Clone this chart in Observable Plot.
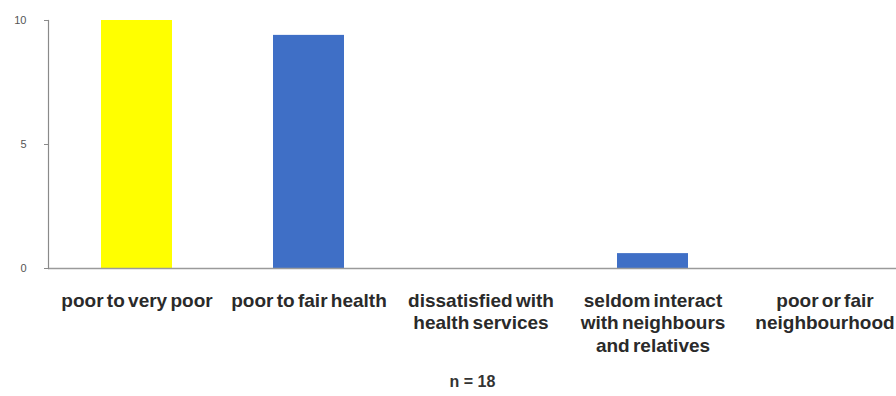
<!DOCTYPE html>
<html>
<head>
<meta charset="utf-8">
<script src="https://cdn.jsdelivr.net/npm/d3@7"></script>
<script src="https://cdn.jsdelivr.net/npm/@observablehq/plot@0.6"></script>
<style>
  html, body { margin: 0; padding: 0; background: #ffffff; }
  #chart { width: 896px; height: 396px; overflow: hidden; }
  /* tighter word gaps in the category labels */
  #chart g[aria-label="x-axis tick label"] { word-spacing: -2px; }
</style>
</head>
<body>
<div id="chart"></div>
<script>
// Categories (axis labels, with line breaks) and their values
const categories = [
  "poor to very poor",
  "poor to fair health",
  "dissatisfied with\nhealth services",
  "seldom interact\nwith neighbours\nand relatives",
  "poor or fair\nneighbourhood"
];
const values = [10, 9.4, 0, 0.6, 0];
const barColors = ["#ffff00", "#3f6fc6", "#3f6fc6", "#3f6fc6", "#3f6fc6"];
const yTicks = [0, 5, 10];
const caption = "n = 18";

const data = categories.map((c, i) => ({ category: c, value: values[i], color: barColors[i] }));

const chart = Plot.plot({
  width: 896,
  height: 396,
  marginLeft: 48,
  marginRight: 0,
  marginTop: 20,
  marginBottom: 128,
  style: { background: "#ffffff", fontFamily: "'Liberation Sans', Arial, sans-serif" },
  x: { domain: categories, range: [50, 910], paddingInner: 0.59, paddingOuter: 0.295 },
  y: { domain: [0, 10], ticks: yTicks },
  marks: [
    Plot.barY(data, { x: "category", y: "value", fill: "color" }),
    Plot.ruleY([0], { stroke: "#9a9a9a", strokeWidth: 1.5 }),
    Plot.frame({ anchor: "left", stroke: "#8a8a8a", strokeWidth: 1.2 }),
    Plot.axisY({
      ticks: yTicks,
      tickSize: 4,
      tickPadding: 18,
      fontSize: 11,
      fill: "#555",
      stroke: "#8a8a8a",
      label: null
    }),
    Plot.axisX({
      tickSize: 0,
      tickPadding: 22,
      fontSize: 19,
      fontWeight: "bold",
      fill: "#2a2a2a",
      lineHeight: 1.2,
      label: null
    }),
    Plot.text([caption], {
      frameAnchor: "bottom",
      dy: 118,
      fontSize: 16,
      fontWeight: "bold",
      fill: "#333"
    })
  ]
});

document.getElementById("chart").appendChild(chart);
</script>
</body>
</html>
